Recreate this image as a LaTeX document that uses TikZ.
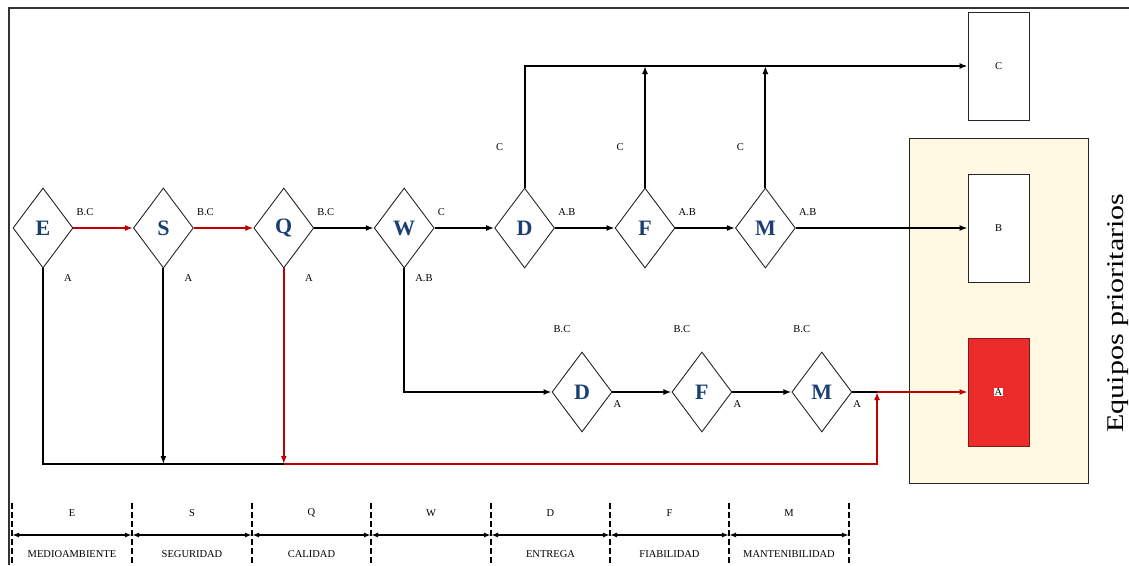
\documentclass[tikz,border=0pt]{standalone}
\usepackage{fontspec}
\setmainfont{Liberation Serif}
\usepackage{xcolor}
\usetikzlibrary{arrows.meta,positioning,calc,shapes.geometric}
\definecolor{flowred}{HTML}{C00000}
\definecolor{lettblue}{HTML}{1B3F73}
\definecolor{prioyellow}{HTML}{FFF9E3}
\definecolor{boxred}{HTML}{EC2B2B}

\begin{document}
\begin{tikzpicture}[
  x=1pt, y=-1pt,
  font=\fontsize{10.5}{12}\selectfont,
  pillar/.style={draw=black!85, line width=0.9pt, shape=diamond, inner sep=0pt, minimum width=60pt, minimum height=80pt, font=\fontsize{22}{24}\selectfont\bfseries, text=lettblue},
  equip/.style={draw=black!85, line width=0.9pt, inner sep=0pt, minimum width=61pt, minimum height=108pt},
  lbl/.style={inner sep=1pt},
  flow/.style={line width=2pt},
  arr/.style={flow, -{Latex[length=8pt,width=6pt]}},
  redarr/.style={arr, draw=flowred},
  tick/.style={line width=1.5pt, dash pattern=on 6pt off 3pt},
  span/.style={line width=1.6pt, {Latex[length=7pt,width=5pt]}-{Latex[length=7pt,width=5pt]}}
]
\useasboundingbox (0,0) rectangle (1129,565);
\draw[line width=2pt, black!80] (9,565) -- (9,8) -- (1129,8);

\node[pillar] (e) at (43,228) {E};
\node[pillar, right=59.5pt of e] (s) {S};
\node[pillar, right=59.5pt of s] (q) {Q};
\node[pillar, right=59.5pt of q] (w) {W};
\node[pillar, right=59.5pt of w] (d) {D};
\node[pillar, right=59.5pt of d] (f) {F};
\node[pillar, right=59.5pt of f] (m) {M};
\node[pillar] (d2) at (582,392) {D};
\node[pillar, right=59pt of d2] (f2) {F};
\node[pillar, right=59pt of f2] (m2) {M};

\node[equip] (bc) at (998.5,66) {C};
\node[draw=black!85, line width=0.9pt, fill=prioyellow, minimum width=179pt, minimum height=345pt] (prio) at (998.5,310.5) {};
\node[equip, fill=white] (bb) at (998.5,228) {B};
\node[equip, fill=boxred, draw=boxred!55!black] (ba) at (998.5,392) {};
\node[fill=white, inner sep=0.6pt] (alab) at (ba) {A};
\node[rotate=90, anchor=north, inner sep=0pt, font=\fontsize{30}{32}\selectfont] (prioname) at (1107,313) {\scalebox{1}[0.8]{Equipos prioritarios}};

\coordinate (base) at (0,464);
\coordinate (jn) at (877,392);

\draw[redarr] (e.east) -- (s.west);
\draw[redarr] (s.east) -- (q.west);
\draw[arr] (q.east) -- (w.west);
\draw[arr] (w.east) -- (d.west);
\draw[arr] (d.east) -- (f.west);
\draw[arr] (f.east) -- (m.west);
\draw[arr] (m.east) -- (bb.west);
\draw[arr] (d.north) |- (bc.west);
\draw[arr] (f.north) -- (f.north |- bc.west);
\draw[arr] (m.north) -- (m.north |- bc.west);
\draw[arr] (w.south) |- (d2.west);
\draw[arr] (d2.east) -- (f2.west);
\draw[arr] (f2.east) -- (m2.west);
\draw[flow] (m2.east) -- (jn);
\draw[redarr] (jn) -- (ba.west);
\draw[flow] (e.south) -- (e.south |- base) -- (q.south |- base);
\draw[arr] (s.south) -- (s.south |- base);
\draw[redarr] (q.south) -- (q.south |- base);
\draw[redarr] (q.south |- base) -| (jn);

\foreach \n/\t in {e/B.C, s/B.C, q/B.C, w/C, d/A.B, f/A.B, m/A.B}
  \node[lbl, anchor=south west] (\n-out) at ([xshift=2pt,yshift=11pt]\n.east) {\t};
\foreach \n/\dx/\t in {e/20/A, s/20/A, q/20/A, w/10/A.B}
  \node[lbl, anchor=north west] (\n-down) at ([xshift=\dx pt,yshift=-5pt]\n.south) {\t};
\foreach \n in {d, f, m}
  \node[lbl] (\n-up) at ([xshift=-25pt,yshift=40pt]\n.north) {C};
\foreach \n in {d2, f2, m2} {
  \node[lbl] (\n-in) at ([xshift=-20pt,yshift=22pt]\n.north) {B.C};
  \node[lbl] (\n-out) at ([xshift=5pt,yshift=-12pt]\n.east) {A};
}

\foreach \x [count=\i from 0] in {12,132,252,371,491,610,729,849} {
  \draw[tick] (\x,503) -- (\x,565);
  \coordinate (t\i) at (\x,535);
}
\foreach \a/\b/\lt/\nm in {0/1/E/MEDIOAMBIENTE, 1/2/S/SEGURIDAD, 2/3/Q/CALIDAD, 3/4/W/{}, 4/5/D/ENTREGA, 5/6/F/FIABILIDAD, 6/7/M/MANTENIBILIDAD} {
  \draw[span] (t\a) -- (t\b);
  \node[lbl] (k\a) at ($(t\a)!0.5!(t\b)+(0,-22)$) {\lt};
  \node[lbl] (n\a) at ($(t\a)!0.5!(t\b)+(0,19)$) {\nm};
}
\end{tikzpicture}
\end{document}
